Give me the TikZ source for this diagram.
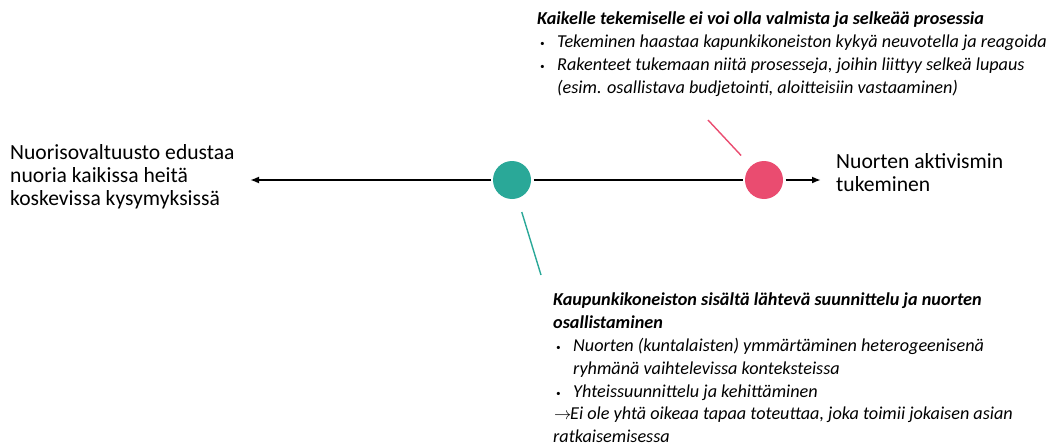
\documentclass[tikz,border=0pt]{standalone}
\usepackage{fontspec}
\setmainfont{Carlito}
\usetikzlibrary{arrows.meta,positioning}
\definecolor{tealdot}{RGB}{42,168,152}
\definecolor{pinkdot}{RGB}{234,76,112}
\newcommand{\itm}{\makebox[20pt][l]{\hspace*{3pt}\raisebox{1pt}{\small\textbullet}}}
\newcommand{\gap}{\hspace*{20pt}}

\begin{document}
\begin{tikzpicture}[x=1pt,y=-1pt,
  dot/.style={circle,minimum size=38pt,inner sep=0pt,outer sep=2.5pt},
  axis/.style={line width=2.6pt},
  tag/.style={line width=1.4pt},
  note/.style={anchor=north west,inner sep=0pt,align=left,
    font=\fontsize{18.2}{22.8}\selectfont\itshape},
  side/.style={anchor=north west,inner sep=0pt,align=left,
    font=\fontsize{21.6}{23}\selectfont}]
\useasboundingbox (0,0) rectangle (1058,447);

% the two positions on the axis
\node[dot,fill=tealdot] (teal) at (512,180) {};
\node[dot,fill=pinkdot] (pink) at (764,180) {};
\coordinate (leftend) at (250,180);
\coordinate (rightend) at (821,180);

\draw[axis,-{Latex[length=9pt,width=7pt]}] (teal) -- (leftend);
\draw[axis] (teal) -- (pink);
\draw[axis,-{Latex[length=9pt,width=7pt]}] (pink) -- (rightend);

% end labels
\node[side] (youthcouncil) at (10,144)
  {Nuorisovaltuusto edustaa\\nuoria kaikissa heitä\\koskevissa kysymyksissä};
\node[side] (activism) at (836,153) {Nuorten aktivismin\\tukeminen};

% notes
\node[note] (pinknote) at (537,12)
  {\textbf{Kaikelle tekemiselle ei voi olla valmista ja selkeää prosessia}\\
   \itm Tekeminen haastaa kapunkikoneiston kykyä neuvotella ja reagoida\\
   \itm Rakenteet tukemaan niitä prosesseja, joihin liittyy selkeä lupaus\\
   \gap(esim. osallistava budjetointi, aloitteisiin vastaaminen)};
\node[note] (tealnote) at (553,293)
  {\textbf{Kaupunkikoneiston sisältä lähtevä suunnittelu ja nuorten}\\
   \textbf{osallistaminen}\\
   \itm Nuorten (kuntalaisten) ymmärtäminen heterogeenisenä\\
   \gap ryhmänä vaihtelevissa konteksteissa\\
   \itm Yhteissuunnittelu ja kehittäminen\\
   \makebox[17pt][l]{\hspace*{1pt}$\rightarrow$}Ei ole yhtä oikeaa tapaa toteuttaa, joka toimii jokaisen asian\\
   ratkaisemisessa};

\coordinate (pinktag) at (708,120);
\coordinate (tealtag) at (541,275);
\draw[tag,pinkdot,shorten >=12pt] (pinktag) -- (pink);
\draw[tag,tealdot,shorten >=12pt] (tealtag) -- (teal);
\end{tikzpicture}
\end{document}
